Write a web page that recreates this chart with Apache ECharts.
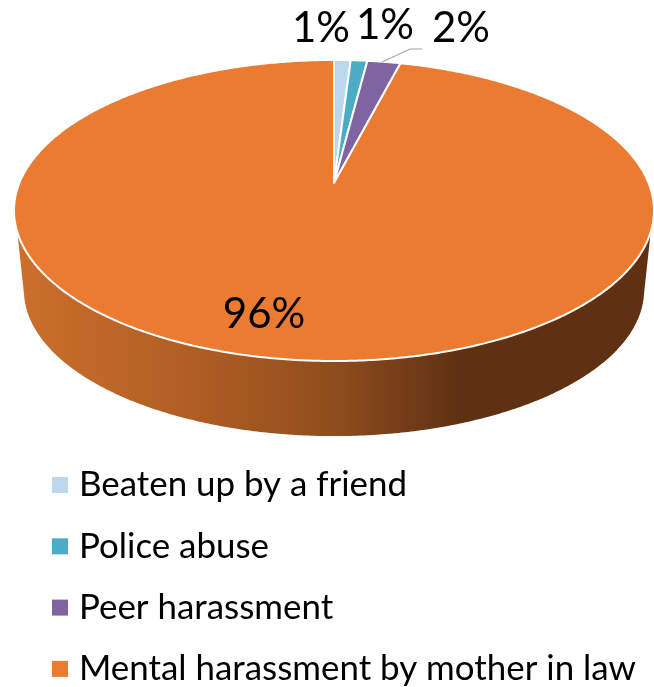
<!DOCTYPE html>
<html>
<head>
<meta charset="utf-8">
<style>html,body{margin:0;padding:0;background:#fff}#chart{width:654px;height:687px}</style>
<script src="https://cdn.jsdelivr.net/npm/echarts@6/dist/echarts.min.js"></script>
</head>
<body>
<div id="chart"></div>
<script>
const categories = ['Beaten up by a friend', 'Police abuse', 'Peer harassment', 'Mental harassment by mother in law'];
const shares = [1, 1, 2, 96];
const sliceColors = ['#BDD7EE', '#4BACC6', '#8064A2', '#EA7B30'];

const FONT = 'Lato';
const TOTAL = shares.reduce((a, b) => a + b, 0);

// Tilted disc: unit-circle points go through a perspective map, so the hub
// sits above the middle of the visible ellipse.
const HUB = { x: 334, y: 183 };
const LENS = 0.1827, SPREAD_X = 314.6, SPREAD_Y = 145.5;
// The underside of the disc is a smaller copy pushed down the page.
const FLOOR = { scale: 0.969, drop: 80.6 };
const WALL_TOP_Y = 232, WALL_BOTTOM_Y = 295;

function project(deg, scale, drop) {
  const t = deg * Math.PI / 180;
  const w = 1 + LENS * Math.cos(t);
  return [
    HUB.x + scale * SPREAD_X * Math.sin(t) / w,
    HUB.y + drop - scale * SPREAD_Y * Math.cos(t) / w
  ];
}

function sweep(from, to, scale, drop) {
  const steps = Math.max(2, Math.ceil(Math.abs(to - from) * 2));
  const pts = [];
  for (let i = 0; i <= steps; i++) {
    pts.push(project(from + (to - from) * i / steps, scale, drop));
  }
  return pts;
}

// Percentage labels sit next to their slices, one spot per category.
const labelSpots = [[321, 28], [385, 25], [461, 28], [264, 314]];

function sliceStart(index) {
  let sum = 0;
  for (let i = 0; i < index; i++) sum += shares[i];
  return sum / TOTAL * 360;
}

function wallShape() {
  const upper = sweep(90, 270, 1, 0).filter(p => p[1] >= WALL_TOP_Y);
  const lower = sweep(270, 90, FLOOR.scale, FLOOR.drop).filter(p => p[1] >= WALL_BOTTOM_Y);
  return upper.concat(lower);
}

function renderSlice(index) {
  return function (params, api) {
    const value = api.value(0);
    const a0 = sliceStart(index);
    const a1 = a0 + value / TOTAL * 360;
    const children = [];
    if (a1 - a0 > 180) {
      // Only the large slice faces the viewer, so it alone gets a side wall.
      children.push({
        type: 'polygon',
        shape: { points: wallShape() },
        style: {
          fill: new echarts.graphic.LinearGradient(0, 0, 1, 0, [
            { offset: 0, color: '#CC6F2B' },
            { offset: 0.3, color: '#AD5C23' },
            { offset: 0.5, color: '#8F4D1D' },
            { offset: 0.6, color: '#773E19' },
            { offset: 0.7, color: '#5E3112' },
            { offset: 1, color: '#5F3112' }
          ]),
          stroke: null
        }
      });
    }
    children.push({
      type: 'polygon',
      shape: { points: [[HUB.x, HUB.y]].concat(sweep(a0, a1, 1, 0)) },
      style: { fill: sliceColors[index], stroke: '#FFFFFF', lineWidth: 2, lineJoin: 'round' }
    });
    if (index === 2) {
      // Leader line for the label that was pushed away from its slice.
      children.push({
        type: 'polyline',
        shape: { points: [[382, 62], [410, 49], [422, 49]] },
        style: { fill: null, stroke: '#A6A6A6', lineWidth: 1.2 }
      });
    }
    children.push({
      type: 'text',
      style: {
        text: value + '%',
        x: labelSpots[index][0],
        y: labelSpots[index][1],
        align: 'center',
        verticalAlign: 'middle',
        fontFamily: FONT,
        fontSize: 42,
        fill: '#000000'
      }
    });
    return { type: 'group', children: children };
  };
}

const chart = echarts.init(document.getElementById('chart'), null, { renderer: 'canvas' });
chart.setOption({
  animation: false,
  backgroundColor: '#FFFFFF',
  tooltip: { show: false },
  legend: {
    orient: 'vertical',
    left: 47,
    top: 460,
    height: 225,
    data: categories,
    icon: 'rect',
    itemWidth: 16,
    itemHeight: 16,
    itemGap: 21.3,
    selectedMode: false,
    textStyle: { fontFamily: FONT, fontSize: 34.9, color: '#000000', lineHeight: 40, padding: [0, 0, 0, 6] }
  },
  series: categories.map((name, i) => ({
    type: 'custom',
    name: name,
    coordinateSystem: 'none',
    silent: true,
    itemStyle: { color: sliceColors[i] },
    renderItem: renderSlice(i),
    data: [[shares[i]]]
  }))
});
</script>
</body>
</html>
